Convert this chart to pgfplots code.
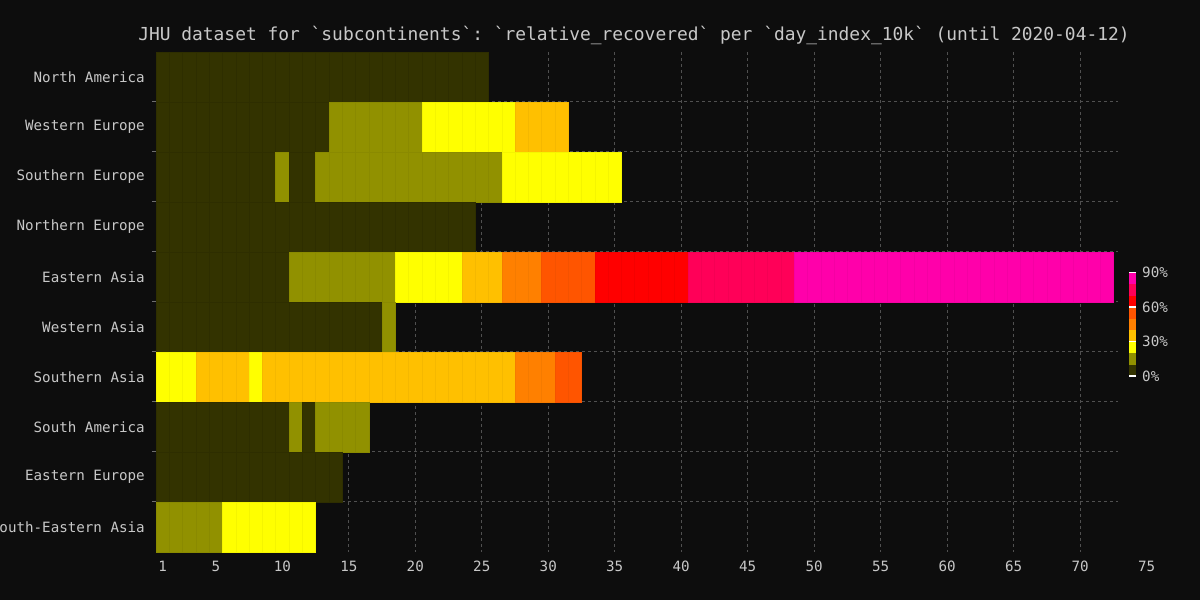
\documentclass[border=0pt]{standalone}
\usepackage{fontspec}
\setmainfont{DejaVu Sans Mono}
\setmonofont{DejaVu Sans Mono}
\usepackage{pgfplots}
\pgfplotsset{compat=1.18}
\definecolor{bgc}{RGB}{13,13,13}
\definecolor{txt}{RGB}{200,200,200}
\definecolor{dashc}{RGB}{80,80,80}
\definecolor{tickc}{RGB}{110,110,110}
\definecolor{c0}{HTML}{333300}
\definecolor{c1}{HTML}{919100}
\definecolor{c2}{HTML}{FFFF00}
\definecolor{c3}{HTML}{FFC000}
\definecolor{c4}{HTML}{FF8000}
\definecolor{c5}{HTML}{FF5500}
\definecolor{c6}{HTML}{FF0000}
\definecolor{c7}{HTML}{FF0058}
\definecolor{c8}{HTML}{FF00AA}
\newcommand\lblfont{\fontsize{14.2bp}{16bp}\selectfont\ttfamily}
\pgfdeclareplotmark{cell}{%
  \pgfpathrectangle{\pgfpoint{-6.648bp}{-25bp}}{\pgfpoint{13.296bp}{50bp}}%
  \pgfusepathqfillstroke}
\begin{document}
\begin{tikzpicture}[x=1bp,y=1bp]
\fill[bgc] (0,0) rectangle (1200,600);
\node[font=\fontsize{17.9bp}{20bp}\selectfont\ttfamily, text=txt] at (634,565)
  {JHU dataset for `subcontinents`: `relative\_recovered` per `day\_index\_10k` (until 2020-04-12)};
\begin{axis}[
  at={(156bp,48bp)}, anchor=south west,
  scale only axis, width=962bp, height=500bp,
  xmin=0.5, xmax=72.85, ymin=0.5, ymax=10.5, y dir=reverse,
  axis line style={draw=none},
  xtick={1,5,10,15,...,70},
  xmajorgrids, ymajorgrids=false,
  ytick={1,...,10},
  yticklabels={North America,Western Europe,Southern Europe,Northern Europe,Eastern Asia,Western Asia,Southern Asia,South America,Eastern Europe,South-Eastern Asia},
  minor ytick={1.5,2.5,...,9.5}, yminorgrids,
  major tick length=0pt, minor tick length=4bp,
  tick align=outside, ytick pos=left, xtick pos=bottom,
  minor tick style={color=tickc, line width=1bp},
  grid style={dashc, dash pattern=on 3bp off 3bp, line width=1bp},
  minor grid style={dashc, dash pattern=on 3bp off 3bp, line width=1bp},
  tick label style={font=\lblfont, text=txt},
  xticklabel style={anchor=center, yshift=-14.5bp},
  yticklabel style={anchor=east, xshift=-11bp, inner sep=0pt},
  /pgf/number format/assume math mode=true,
  clip=false,
]
\addplot[scatter, only marks, mark=cell, point meta=explicit symbolic,
  every mark/.append style={line width=0.4bp},
  scatter/classes={
    a={fill=c0,draw=c0!90!black},
    b={fill=c1,draw=c1!95!black},
    c={fill=c2,draw=c2!96!black},
    d={fill=c3,draw=c3!96!black},
    e={fill=c4,draw=c4!96!black},
    f={fill=c5,draw=c5!96!black},
    g={fill=c6,draw=c6!96!black},
    h={fill=c7,draw=c7!96!black},
    i={fill=c8,draw=c8!96!black}}]
coordinates {
(1,1)[a] (2,1)[a] (3,1)[a] (4,1)[a] (5,1)[a] (6,1)[a] (7,1)[a] (8,1)[a] (9,1)[a] (10,1)[a] (11,1)[a] (12,1)[a] (13,1)[a] (14,1)[a] (15,1)[a] (16,1)[a] (17,1)[a] (18,1)[a] (19,1)[a] (20,1)[a] (21,1)[a] (22,1)[a] (23,1)[a] (24,1)[a] (25,1)[a]
(1,2)[a] (2,2)[a] (3,2)[a] (4,2)[a] (5,2)[a] (6,2)[a] (7,2)[a] (8,2)[a] (9,2)[a] (10,2)[a] (11,2)[a] (12,2)[a] (13,2)[a] (14,2)[b] (15,2)[b] (16,2)[b] (17,2)[b] (18,2)[b] (19,2)[b] (20,2)[b] (21,2)[c] (22,2)[c] (23,2)[c] (24,2)[c] (25,2)[c] (26,2)[c] (27,2)[c] (28,2)[d] (29,2)[d] (30,2)[d] (31,2)[d]
(1,3)[a] (2,3)[a] (3,3)[a] (4,3)[a] (5,3)[a] (6,3)[a] (7,3)[a] (8,3)[a] (9,3)[a] (10,3)[b] (11,3)[a] (12,3)[a] (13,3)[b] (14,3)[b] (15,3)[b] (16,3)[b] (17,3)[b] (18,3)[b] (19,3)[b] (20,3)[b] (21,3)[b] (22,3)[b] (23,3)[b] (24,3)[b] (25,3)[b] (26,3)[b] (27,3)[c] (28,3)[c] (29,3)[c] (30,3)[c] (31,3)[c] (32,3)[c] (33,3)[c] (34,3)[c] (35,3)[c]
(1,4)[a] (2,4)[a] (3,4)[a] (4,4)[a] (5,4)[a] (6,4)[a] (7,4)[a] (8,4)[a] (9,4)[a] (10,4)[a] (11,4)[a] (12,4)[a] (13,4)[a] (14,4)[a] (15,4)[a] (16,4)[a] (17,4)[a] (18,4)[a] (19,4)[a] (20,4)[a] (21,4)[a] (22,4)[a] (23,4)[a] (24,4)[a]
(1,5)[a] (2,5)[a] (3,5)[a] (4,5)[a] (5,5)[a] (6,5)[a] (7,5)[a] (8,5)[a] (9,5)[a] (10,5)[a] (11,5)[b] (12,5)[b] (13,5)[b] (14,5)[b] (15,5)[b] (16,5)[b] (17,5)[b] (18,5)[b] (19,5)[c] (20,5)[c] (21,5)[c] (22,5)[c] (23,5)[c] (24,5)[d] (25,5)[d] (26,5)[d] (27,5)[e] (28,5)[e] (29,5)[e] (30,5)[f] (31,5)[f] (32,5)[f] (33,5)[f] (34,5)[g] (35,5)[g] (36,5)[g] (37,5)[g] (38,5)[g] (39,5)[g] (40,5)[g] (41,5)[h] (42,5)[h] (43,5)[h] (44,5)[h] (45,5)[h] (46,5)[h] (47,5)[h] (48,5)[h] (49,5)[i] (50,5)[i] (51,5)[i] (52,5)[i] (53,5)[i] (54,5)[i] (55,5)[i] (56,5)[i] (57,5)[i] (58,5)[i] (59,5)[i] (60,5)[i] (61,5)[i] (62,5)[i] (63,5)[i] (64,5)[i] (65,5)[i] (66,5)[i] (67,5)[i] (68,5)[i] (69,5)[i] (70,5)[i] (71,5)[i] (72,5)[i]
(1,6)[a] (2,6)[a] (3,6)[a] (4,6)[a] (5,6)[a] (6,6)[a] (7,6)[a] (8,6)[a] (9,6)[a] (10,6)[a] (11,6)[a] (12,6)[a] (13,6)[a] (14,6)[a] (15,6)[a] (16,6)[a] (17,6)[a] (18,6)[b]
(1,7)[c] (2,7)[c] (3,7)[c] (4,7)[d] (5,7)[d] (6,7)[d] (7,7)[d] (8,7)[c] (9,7)[d] (10,7)[d] (11,7)[d] (12,7)[d] (13,7)[d] (14,7)[d] (15,7)[d] (16,7)[d] (17,7)[d] (18,7)[d] (19,7)[d] (20,7)[d] (21,7)[d] (22,7)[d] (23,7)[d] (24,7)[d] (25,7)[d] (26,7)[d] (27,7)[d] (28,7)[e] (29,7)[e] (30,7)[e] (31,7)[f] (32,7)[f]
(1,8)[a] (2,8)[a] (3,8)[a] (4,8)[a] (5,8)[a] (6,8)[a] (7,8)[a] (8,8)[a] (9,8)[a] (10,8)[a] (11,8)[b] (12,8)[a] (13,8)[b] (14,8)[b] (15,8)[b] (16,8)[b]
(1,9)[a] (2,9)[a] (3,9)[a] (4,9)[a] (5,9)[a] (6,9)[a] (7,9)[a] (8,9)[a] (9,9)[a] (10,9)[a] (11,9)[a] (12,9)[a] (13,9)[a] (14,9)[a]
(1,10)[b] (2,10)[b] (3,10)[b] (4,10)[b] (5,10)[b] (6,10)[c] (7,10)[c] (8,10)[c] (9,10)[c] (10,10)[c] (11,10)[c] (12,10)[c]
};
\node[font=\lblfont, text=txt, anchor=center, yshift=-14.5bp] at (axis cs:75,10.5) {75};
\end{axis}
\begin{axis}[
  at={(1129bp,224bp)}, anchor=south west,
  scale only axis, width=7bp, height=103.3bp,
  xmin=-0.5, xmax=0.5, ymin=0, ymax=90,
  ybar stacked, bar width=7bp,
  axis line style={draw=none}, xtick=\empty,
  ytick={0,30,60,90}, yticklabels={0\%,30\%,60\%,90\%},
  ytick pos=right, yticklabel pos=right, tick align=inside,
  major tick length=7bp,
  major tick style={white, line width=1.5bp},
  axis on top,
  yticklabel style={font=\lblfont, text=txt, anchor=west, xshift=6bp, inner sep=0pt},
]
\addplot[fill=c0, draw=none] coordinates {(0,10)};
\addplot[fill=c1, draw=none] coordinates {(0,10)};
\addplot[fill=c2, draw=none] coordinates {(0,10)};
\addplot[fill=c3, draw=none] coordinates {(0,10)};
\addplot[fill=c4, draw=none] coordinates {(0,10)};
\addplot[fill=c5, draw=none] coordinates {(0,10)};
\addplot[fill=c6, draw=none] coordinates {(0,10)};
\addplot[fill=c7, draw=none] coordinates {(0,10)};
\addplot[fill=c8, draw=none] coordinates {(0,10)};
\end{axis}
\pgfresetboundingbox
\path[use as bounding box] (0,0) rectangle (1200,600);
\end{tikzpicture}
\end{document}
